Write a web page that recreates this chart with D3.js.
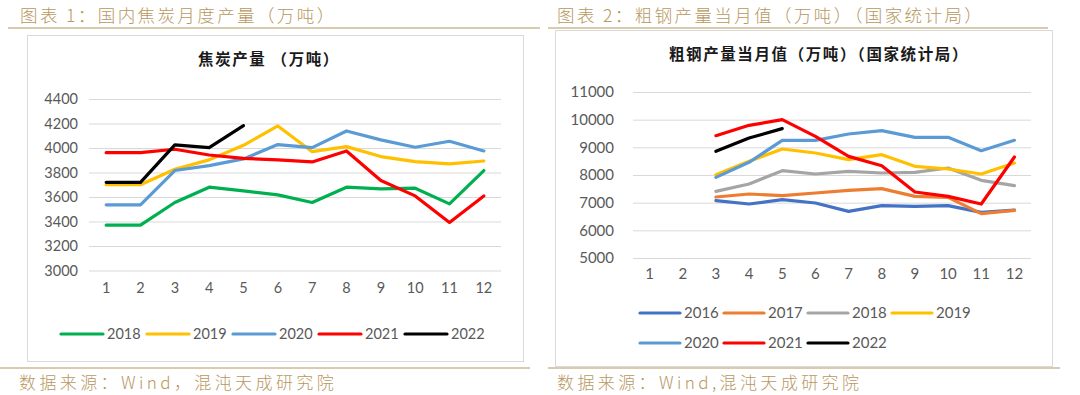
<!DOCTYPE html>
<html><head><meta charset="utf-8">
<script src="https://cdn.jsdelivr.net/npm/d3@7"></script>
<style>body{margin:0;background:#fff;}svg{display:block;}</style>
</head><body>
<svg id="c" width="1080" height="395"></svg>
<script>
const months = [1,2,3,4,5,6,7,8,9,10,11,12];

// Chart 1: coke production (10k tons)
const cokeYears = ["2018","2019","2020","2021","2022"];
const coke2018 = [3370,3370,3555,3680,3650,3617,3555,3680,3666,3672,3544,3816];
const coke2019 = [3700,3700,3826,3903,4022,4180,3970,4011,3930,3889,3870,3894];
const coke2020 = [3536,3536,3816,3856,3911,4028,4003,4139,4066,4006,4055,3976];
const coke2021 = [3962,3962,3990,3943,3916,3903,3886,3976,3734,3609,3392,3609];
const coke2022 = [3720,3720,4025,4003,4183];
const cokeTicks = [3000,3200,3400,3600,3800,4000,4200,4400];

// Chart 2: crude steel monthly output (10k tons), months 3-12
const steelYears = ["2016","2017","2018","2019","2020","2021","2022"];
const steel2016 = [null,null,7072,6951,7108,6988,6686,6891,6867,6891,6650,6730];
const steel2017 = [null,null,7204,7313,7252,7349,7445,7506,7228,7192,6602,6722];
const steel2018 = [null,null,7409,7674,8156,8036,8132,8072,8096,8253,7807,7614];
const steel2019 = [null,null,8012,8494,8939,8795,8554,8735,8313,8216,8036,8433];
const steel2020 = [null,null,7915,8458,9253,9253,9482,9602,9361,9361,8879,9253];
const steel2021 = [null,null,9421,9795,10000,9397,8674,8337,7385,7228,6951,8650];
const steel2022 = [null,null,8855,9337,9675];
const steelTicks = [5000,6000,7000,8000,9000,10000,11000];

const cokeColors = ["#00B050","#FFC000","#5B9BD5","#FF0000","#000000"];
const steelColors = ["#4472C4","#ED7D31","#A5A5A5","#FFC000","#5B9BD5","#FF0000","#000000"];

const svg = d3.select("#c");
const gold = "#B8975F";
const numFont = "Lato, 'Noto Sans', sans-serif";
const cjk = "'Noto Sans CJK SC', sans-serif";

// headers
svg.append("text").attr("x",20).attr("y",22).attr("fill",gold).attr("font-family",cjk)
  .attr("font-size",17.5).attr("font-weight",300).attr("letter-spacing",2.4).text("图表 1：国内焦炭月度产量（万吨）");
svg.append("text").attr("x",557).attr("y",22).attr("fill",gold).attr("font-family",cjk)
  .attr("font-size",17.5).attr("font-weight",300).attr("letter-spacing",2.4).text("图表 2：粗钢产量当月值（万吨）（国家统计局）");
// gold rules
[[8,540,28],[548,1048,28],[0,530,368],[548,1060,368]].forEach(r=>{
  svg.append("line").attr("x1",r[0]).attr("x2",r[1]).attr("y1",r[2]).attr("y2",r[2])
    .attr("stroke",gold).attr("stroke-width",1.2);
});
// footers
svg.append("text").attr("x",19).attr("y",389).attr("fill",gold).attr("font-family",cjk)
  .attr("font-size",17).attr("font-weight",300).attr("letter-spacing",3.4).text("数据来源：Wind，混沌天成研究院");
svg.append("text").attr("x",557).attr("y",389).attr("fill",gold).attr("font-family",cjk)
  .attr("font-size",17).attr("font-weight",300).attr("letter-spacing",3.4).text("数据来源：Wind,混沌天成研究院");

// frames
svg.append("rect").attr("x",27.5).attr("y",35.5).attr("width",496).attr("height",326)
  .attr("fill","#fff").attr("stroke","#D9D9D9");
svg.append("rect").attr("x",555.5).attr("y",30.5).attr("width",497).attr("height",336)
  .attr("fill","#fff").attr("stroke","#D9D9D9");

function drawChart(o){
  const g = svg.append("g");
  const x = d3.scaleBand().domain(months).range([o.x0,o.x1]);
  const y = d3.scaleLinear().domain(o.domain).range([o.yb,o.yt]);
  const yAxis = d3.axisLeft(y).tickValues(o.ticks).tickFormat(d3.format("d"))
    .tickSize(-(o.x1-o.x0)).tickPadding(o.pad);
  const ya = g.append("g").attr("transform",`translate(${o.x0},0)`).call(yAxis);
  ya.select(".domain").remove();
  ya.selectAll(".tick line").attr("stroke","#D9D9D9").attr("stroke-width",1);
  ya.selectAll(".tick text").attr("fill","#595959").attr("font-size",o.fs).attr("font-family",numFont);
  const xAxis = d3.axisBottom(x).tickSize(0).tickPadding(0);
  const xa = g.append("g").attr("transform",`translate(0,${o.xly})`).call(xAxis);
  xa.select(".domain").remove();
  xa.selectAll(".tick text").attr("fill","#595959").attr("font-size",o.fs).attr("font-family",numFont);
  const line = d3.line().defined(d=>d[1]!=null)
    .x(d=>x(d[0])+x.bandwidth()/2).y(d=>y(d[1]));
  o.series.forEach((s,i)=>{
    g.append("path").datum(months.map((m,j)=>[m, s[j]===undefined?null:s[j]]))
      .attr("d",line).attr("fill","none").attr("stroke",o.colors[i])
      .attr("stroke-width",3.2).attr("stroke-linejoin","round").attr("stroke-linecap","round");
  });
  // title
  g.append("text").attr("x",o.tx).attr("y",o.ty).attr("text-anchor","middle")
    .attr("font-family",cjk).attr("font-weight",700).attr("font-size",15.5)
    .attr("letter-spacing",1.6).attr("fill","#1a1a1a")
    .text(o.title);
  // legend
  o.names.forEach((n,i)=>{
    const p = o.legendPos(i);
    g.append("line").attr("x1",p[0]).attr("x2",p[0]+o.lw).attr("y1",p[1]).attr("y2",p[1])
      .attr("stroke",o.colors[i]).attr("stroke-width",3.2).attr("stroke-linecap","round");
    g.append("text").attr("x",p[0]+o.lw+4).attr("y",p[1]).attr("dy","0.35em")
      .attr("fill","#595959").attr("font-size",o.lfs).attr("font-family",numFont).text(n);
  });
}

drawChart({
  x0:89, x1:501, yb:270.5, yt:99, domain:[3000,4400], ticks:cokeTicks, pad:11, fs:14.5,
  xly:283, series:[coke2018,coke2019,coke2020,coke2021,coke2022], colors:cokeColors,
  names:cokeYears, title:"焦炭产量 （万吨）", tx:269, ty:65,
  lw:42, lfs:14.5, legendPos:i=>[61+i*86, 334]
});
drawChart({
  x0:633, x1:1031, yb:258, yt:92, domain:[5000,11000], ticks:steelTicks, pad:19, fs:15,
  xly:268, series:[steel2016,steel2017,steel2018,steel2019,steel2020,steel2021,steel2022], colors:steelColors,
  names:steelYears, title:"粗钢产量当月值（万吨）（国家统计局）", tx:819, ty:60,
  lw:40, lfs:15, legendPos:i=>[640+(i%4)*84, 313+Math.floor(i/4)*30]
});
</script>
</body></html>
